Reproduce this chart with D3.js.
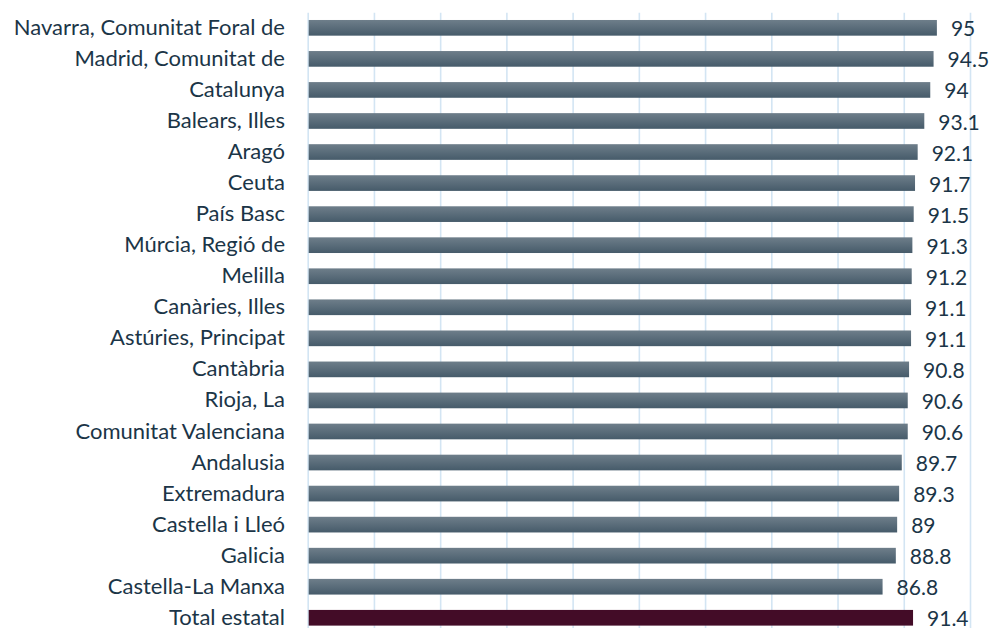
<!DOCTYPE html>
<html>
<head>
<meta charset="utf-8">
<script src="https://cdn.jsdelivr.net/npm/d3@7"></script>
<style>
  html, body { margin: 0; padding: 0; background: #ffffff; }
  svg { display: block; }
</style>
</head>
<body>
<svg id="chart" width="991" height="628"></svg>
<script>
const categories = [
  "Navarra, Comunitat Foral de", "Madrid, Comunitat de", "Catalunya", "Balears, Illes",
  "Aragó", "Ceuta", "País Basc", "Múrcia, Regió de", "Melilla", "Canàries, Illes",
  "Astúries, Principat", "Cantàbria", "Rioja, La", "Comunitat Valenciana", "Andalusia",
  "Extremadura", "Castella i Lleó", "Galicia", "Castella-La Manxa", "Total estatal"
];
const values = [95, 94.5, 94, 93.1, 92.1, 91.7, 91.5, 91.3, 91.2, 91.1, 91.1, 90.8, 90.6, 90.6, 89.7, 89.3, 89, 88.8, 86.8, 91.4];
const xTicks = [0, 10, 20, 30, 40, 50, 60, 70, 80, 90, 100];
const totalLabel = "Total estatal";

const svg = d3.select("#chart");
const margin = { left: 307.7, right: 21, top: 12.3, bottom: -5.3 };
const W = 991, H = 628;

const x = d3.scaleLinear().domain([0, 100]).range([margin.left, W - margin.right]);
const y = d3.scaleBand().domain(categories).range([margin.top, H - margin.bottom]).paddingInner(0.495).paddingOuter(0.2475);

const defs = svg.append("defs");
const grad = defs.append("linearGradient").attr("id", "barGrad").attr("x1", 0).attr("y1", 0).attr("x2", 0).attr("y2", 1);
grad.append("stop").attr("offset", "0%").attr("stop-color", "#6e7e8a");
grad.append("stop").attr("offset", "100%").attr("stop-color", "#465b6a");

// gridlines
const xAxis = d3.axisBottom(x).tickValues(xTicks).tickSize(H - 12.7).tickFormat("");
const gx = svg.append("g").attr("transform", "translate(0,12.7)").call(xAxis);
gx.select(".domain").remove();
gx.selectAll(".tick line").attr("stroke", "#d3e5f3").attr("stroke-width", 1.6);

// bars
svg.append("g").selectAll("rect").data(categories).join("rect")
  .attr("x", x(0) + 1)
  .attr("y", d => y(d))
  .attr("height", y.bandwidth())
  .attr("width", (d, i) => x(values[i]) - x(0) - 1)
  .attr("fill", d => d === totalLabel ? "#430c27" : "url(#barGrad)");

// value labels
svg.append("g").selectAll("text").data(categories).join("text")
  .attr("x", (d, i) => x(values[i]) + 14)
  .attr("y", d => y(d) + y.bandwidth() / 2 + 1.2)
  .attr("dy", "0.35em")
  .attr("font-family", "Lato, 'Open Sans', sans-serif")
  .attr("font-size", 21)
  .attr("fill", "#1b3547")
  .text((d, i) => values[i]);

// category labels
const yAxis = d3.axisLeft(y).tickSize(0).tickPadding(0);
const gy = svg.append("g").attr("transform", "translate(285,0)").call(yAxis);
gy.select(".domain").remove();
gy.selectAll(".tick text")
  .attr("font-family", "Lato, 'Open Sans', sans-serif")
  .attr("font-size", 22)
  .attr("fill", "#1b3547");
</script>
</body>
</html>
